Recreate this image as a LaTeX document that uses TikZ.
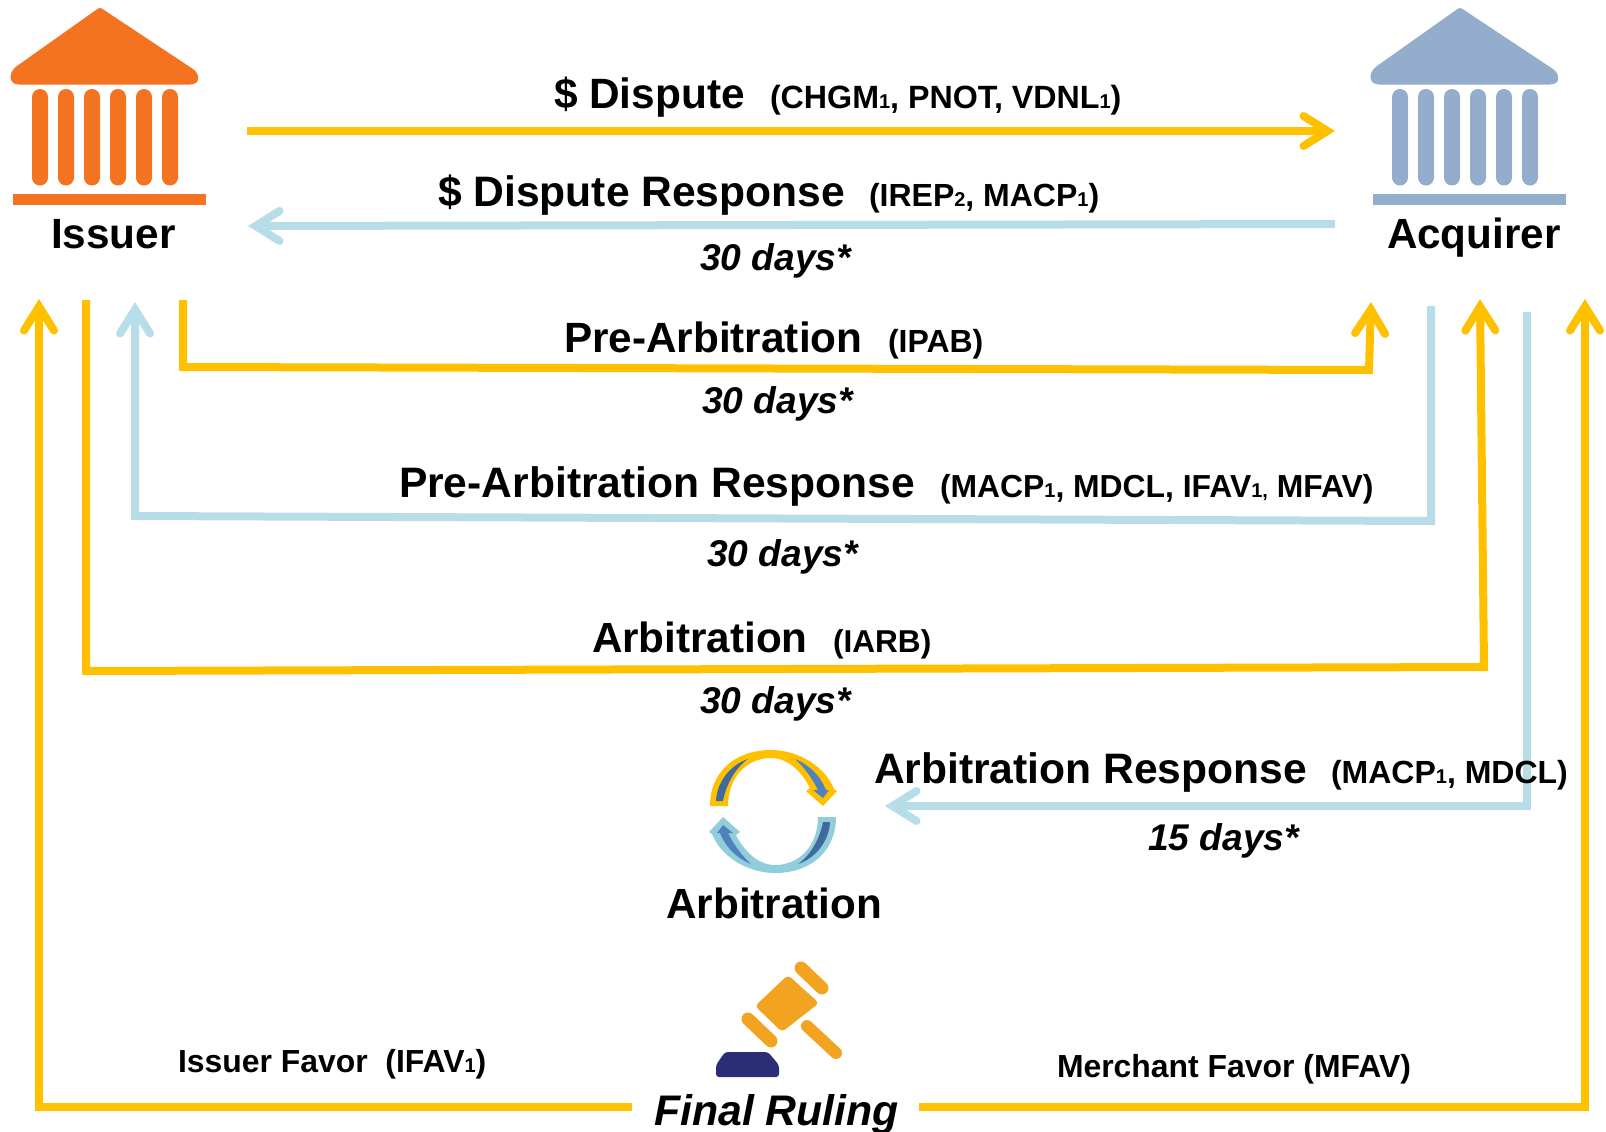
\documentclass[tikz,border=0pt]{standalone}
\usepackage{fontspec}
\setmainfont{Liberation Sans}
\usetikzlibrary{arrows.meta}
\definecolor{gold}{HTML}{FFC000}
\definecolor{pale}{HTML}{B7DEE8}
\definecolor{issuerc}{HTML}{F47321}
\definecolor{acqc}{HTML}{95ADCC}
\definecolor{ringb}{HTML}{92CDDC}
\definecolor{innerb}{HTML}{3F6A9E}
\definecolor{innerc}{HTML}{5080BE}
\definecolor{gavelc}{HTML}{F2A31F}
\definecolor{navyc}{HTML}{2B2D75}
\newcommand{\lowone}[1]{{\fontsize{20}{20}\selectfont #1}}
\tikzset{
 x=1pt,y=-1pt,
 flow/.style={line width=8pt,line join=miter,-{Straight Barb[length=24pt,width=30pt,line cap=round,line join=miter]}},
 goldflow/.style={flow,draw=gold},
 paleflow/.style={flow,draw=pale},
 lab/.style={anchor=base west,inner sep=0pt,outer sep=0pt,font=\bfseries\fontsize{42.6}{42}\selectfont},
 code/.style={anchor=base west,inner sep=0pt,outer sep=0pt,font=\bfseries\fontsize{32}{32}\selectfont},
 days/.style={anchor=base west,inner sep=0pt,outer sep=0pt,font=\bfseries\itshape\fontsize{37.2}{38}\selectfont},
 fav/.style={anchor=base west,inner sep=0pt,outer sep=0pt,font=\bfseries\fontsize{31.9}{31}\selectfont},
 pics/bank/.style={code={
   \fill[#1] (96,10) .. controls (99,7.5) and (101,7.5) .. (104,10) -- (193,69)
      .. controls (200,74) and (201,84.5) .. (190,84.5) -- (19,84.5)
      .. controls (8,84.5) and (8,72) .. (17,66) -- cycle;
   \fill[#1] (12.5,194) rectangle (205.5,204.5);
   \foreach \cx in {40,66,92,118,144,170}
     \fill[#1,rounded corners=7.9pt] (\cx-8,89) rectangle (\cx+8,185.5);
 }},
 pics/halfring/.style={code={
   \fill[#1,line join=round] (710,806) .. controls (710,772) and (735,750) .. (771,750)
     .. controls (800,750) and (826,768) .. (834,789) -- (837,791) -- (823,806) -- (806,791) -- (810,788)
     .. controls (802,772) and (788,758) .. (771,758) .. controls (746,758) and (728,778) .. (728,806) -- cycle;
   \fill[innerb] (716,801) .. controls (717,782) and (730,765) .. (748,759)
     .. controls (735,768) and (726,785) .. (723,801) -- cycle;
   \fill[innerc] (795,759) .. controls (810,765) and (821,777) .. (826,790) -- (829,790) -- (823,798) -- (813,790) -- (818,790)
     .. controls (812,778) and (804,767) .. (795,759) -- cycle;
 }},
}
\begin{document}
\begin{tikzpicture}
\useasboundingbox (0,0) rectangle (1606,1132);
% icons
\pic at (0,0) {bank=issuerc};
\pic at (1360,0) {bank=acqc};
% connector ends
\coordinate (a1) at (247,131); \coordinate (a2) at (1335,131);
\coordinate (b1) at (1335,224); \coordinate (b2) at (248,226);
\coordinate (e1) at (183,300); \coordinate (e2) at (183,367); \coordinate (e3) at (1369,370); \coordinate (e4) at (1371,302);
\coordinate (g1) at (1431,306); \coordinate (g2) at (1431,521); \coordinate (g3) at (135,516); \coordinate (g4) at (135,302);
\coordinate (h1) at (86,300); \coordinate (h2) at (86,671); \coordinate (h3) at (1484,667); \coordinate (h4) at (1480,299);
\coordinate (k1) at (1527,312); \coordinate (k2) at (1527,806); \coordinate (k3) at (885,806);
\coordinate (m1) at (632,1107); \coordinate (m2) at (39,1107); \coordinate (m3) at (39,299);
\coordinate (n1) at (919,1107); \coordinate (n2) at (1585,1107); \coordinate (n3) at (1585,299);
% connectors
\draw[goldflow] (a1) -- (a2);
\draw[paleflow] (b1) -- (b2);
\draw[goldflow] (e1) -- (e2) -- (e3) -- (e4);
\draw[paleflow] (g1) -- (g2) -- (g3) -- (g4);
\draw[goldflow] (h1) -- (h2) -- (h3) -- (h4);
\draw[paleflow] (k1) -- (k2) -- (k3);
\draw[goldflow] (m1) -- (m2) -- (m3);
\draw[goldflow] (n1) -- (n2) -- (n3);
% labels
\node[lab,font=\bfseries\fontsize{42.3}{42}\selectfont] (issuer) at (51,248) {Issuer};
\node[lab,font=\bfseries\fontsize{42.2}{42}\selectfont] (acquirer) at (1387,248) {Acquirer};
\node[lab,font=\bfseries\fontsize{42.4}{42}\selectfont] (t1) at (554,108) {\$ Dispute};
\node[code,font=\bfseries\fontsize{32.2}{32}\selectfont] (c1) at (770,108) {(CHGM\lowone{1}, PNOT, VDNL\lowone{1})};
\node[lab] (t2) at (438,206) {\$ Dispute Response};
\node[code] (c2) at (869,206) {(IREP\lowone{2}, MACP\lowone{1})};
\node[days] (d2) at (700,270) {30 days*};
\node[lab,font=\bfseries\fontsize{42.3}{42}\selectfont] (t3) at (564,352) {Pre-Arbitration};
\node[code] (c3) at (888,352) {(IPAB)};
\node[days] (d3) at (702,413) {30 days*};
\node[lab] (t4) at (399,497) {Pre-Arbitration Response};
\node[code,font=\bfseries\fontsize{31.85}{32}\selectfont] (c4) at (940,497) {(MACP\lowone{1}, MDCL, IFAV\lowone{1,} MFAV)};
\node[days] (d4) at (707,566) {30 days*};
\node[lab,font=\bfseries\fontsize{42.2}{42}\selectfont] (t5) at (592,652) {Arbitration};
\node[code,font=\bfseries\fontsize{31.6}{32}\selectfont] (c5) at (833,652) {(IARB)};
\node[days] (d5) at (700,713) {30 days*};
\node[lab] (t6) at (874,783) {Arbitration Response};
\node[code] (c6) at (1331,783) {(MACP\lowone{1}, MDCL)};
\node[days] (d6) at (1148,850) {15 days*};
\node[lab,font=\bfseries\fontsize{42.2}{42}\selectfont] (arb) at (666.5,918) {Arbitration};
\node[lab,font=\bfseries\itshape\fontsize{42.8}{42}\selectfont] (final) at (654,1125) {Final Ruling};
\node[fav] (f1) at (178,1072) {Issuer Favor\ \ (IFAV\lowone{1})};
\node[fav] (f2) at (1057,1077) {Merchant Favor (MFAV)};
% cycle icon
\pic {halfring=gold};
\begin{scope}[rotate around={180:(773,811.5)}]
\pic[transform shape] {halfring=ringb};
\end{scope}
% gavel
\draw[gavelc,line width=13pt,line cap=round] (801,968) -- (822,988);
\draw[gavelc,line width=13pt,line cap=round] (748,1019) -- (771,1041);
\draw[gavelc,line width=12pt,line cap=round] (807,1026) -- (836,1053);
\fill[gavelc,rounded corners=4pt] (788,975) -- (819,1003) -- (782,1032) -- (755,1006) -- cycle;
\fill[navyc,rounded corners=3pt] (716,1077) -- (716,1065) -- (725,1052) -- (768,1052) -- (779,1065) -- (779,1077) -- cycle;
\end{tikzpicture}
\end{document}
